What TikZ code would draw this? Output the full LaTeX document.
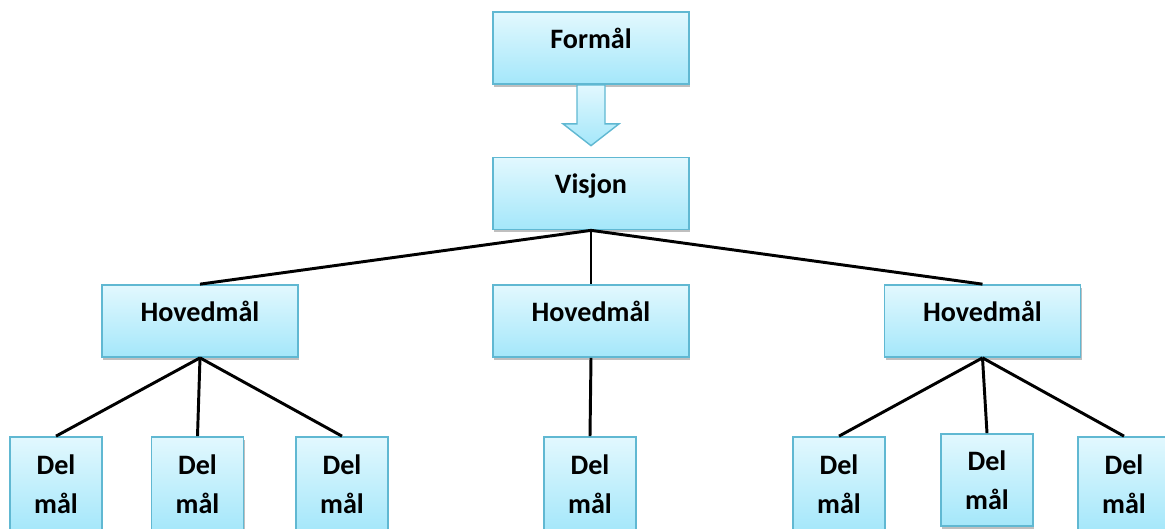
\documentclass[tikz,border=0pt]{standalone}
\usepackage{fontspec}
\setmainfont{Carlito}
\usetikzlibrary{calc,shadows}
\definecolor{boxtop}{RGB}{226,248,254}
\definecolor{boxbottom}{RGB}{164,231,250}
\definecolor{boxline}{RGB}{96,184,210}

\tikzset{
    goalbox/.style={draw=boxline, line width=1.2pt, top color=boxtop, bottom color=boxbottom,
        drop shadow={shadow xshift=1pt, shadow yshift=-2pt, opacity=0.25, fill=black},
        font=\fontsize{20}{27.6}\selectfont\bfseries, align=center, inner sep=0pt},
    topbox/.style={goalbox, minimum width=4.9cm, minimum height=1.8cm, text height=10pt, text depth=9.5pt},
    delbox/.style={goalbox, minimum width=2.3cm, minimum height=2.375cm},
    link/.style={black, line width=2.1pt}
}

\begin{document}
\begin{tikzpicture}[x=0.025cm, y=-0.025cm]

    \useasboundingbox (0,0) rectangle (1165,528);

    \node[topbox] (formal) at (591,48) {Formål};
    \node[topbox] (visjon) at (591,193.5) {Visjon};

    % pil mellom formål og visjon
    \path[draw=boxline, line width=1pt, top color=boxtop, bottom color=boxbottom]
        ($(formal.south)+(-14,0)$) -- ++(0,39) -- ++(-14,0) -- ($(visjon.north)+(0,-11)$)
        -- ($(formal.south)+(28,39)$) -- ++(-14,0) -- ($(formal.south)+(14,0)$) -- cycle;

    \node[topbox] (hoved1) at (200,321) {Hovedmål};
    \node[topbox] (hoved2) at (591,321) {Hovedmål};
    \node[topbox] (hoved3) at (982.5,321) {Hovedmål};

    \node[delbox] (del11) at (56,484.5) {Del\\mål};
    \node[delbox] (del12) at (197.5,484.5) {Del\\mål};
    \node[delbox] (del13) at (342,484.5) {Del\\mål};
    \node[delbox] (del21) at (590,484.5) {Del\\mål};
    \node[delbox] (del31) at (839,484.5) {Del\\mål};
    \node[delbox, minimum height=2.3cm] (del32) at (987,480) {Del\\mål};
    \node[delbox] (del33) at (1124,484.5) {Del\\mål};

    \foreach \h in {hoved1,hoved2,hoved3}
        \draw[link] (visjon.south) -- (\h.north);

    \foreach \d in {del11,del12,del13}
        \draw[link] (hoved1.south) -- (\d.north);
    \draw[link] (hoved2.south) -- (del21.north);
    \foreach \d in {del31,del32,del33}
        \draw[link] (hoved3.south) -- (\d.north);

\end{tikzpicture}
\end{document}
